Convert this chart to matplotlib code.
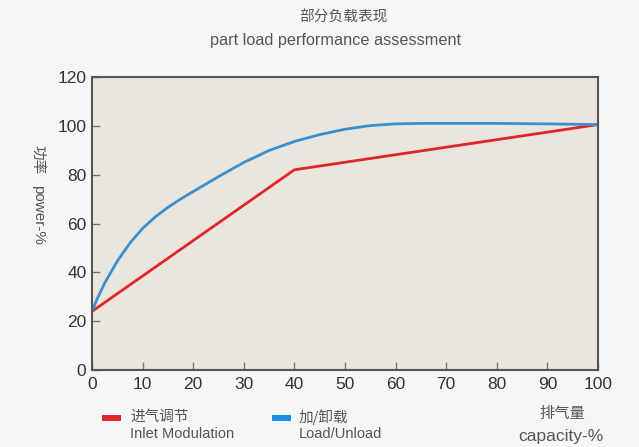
import matplotlib
matplotlib.use("Agg")
import matplotlib.pyplot as plt
from matplotlib.patches import Rectangle

plt.rcParams['font.family'] = ['Liberation Sans', 'Noto Sans CJK SC', 'DejaVu Sans']

# Data
capacity_blue = [0, 1, 2.5, 5, 7.5, 10, 12.5, 15, 17.5, 20, 25, 30, 35, 40, 45, 50, 55, 60, 65, 70, 80, 90, 100]
power_load_unload = [24, 29, 35.6, 44.6, 52, 58, 62.7, 66.6, 70, 73.1, 79.2, 85.0, 89.9, 93.6,
                     96.4, 98.6, 100.1, 100.8, 101, 101, 101, 100.8, 100.5]
capacity_red = [0, 40, 100]
power_inlet_mod = [24, 82, 100.5]

xticks = [0, 10, 20, 30, 40, 50, 60, 70, 80, 90, 100]
yticks = [0, 20, 40, 60, 80, 100, 120]

CJK = ['Noto Sans CJK SC', 'DejaVu Sans']

fig = plt.figure(figsize=(6.39, 4.47), dpi=100)
fig.patch.set_facecolor('#f4f6f7')
ax = fig.add_axes([92/639, 1-370/447, (598-92)/639, (370-77)/447])
ax.set_facecolor('#ebe6dd')

ax.plot(capacity_red, power_inlet_mod, color='#e0262a', lw=2.0)
ax.plot(capacity_blue, power_load_unload, color='#3a8fcf', lw=2.0)

ax.set_xlim(0, 100)
ax.set_ylim(0, 120)
ax.set_xticks(xticks)
ax.set_yticks(yticks)
ax.tick_params(axis='both', direction='in', length=6, width=1, color='#777777',
               labelsize=12.5, labelcolor='#333333')
ax.tick_params(axis='x', pad=5)
ax.tick_params(axis='y', pad=4)
for s in ax.spines.values():
    s.set_color('#555555')
    s.set_linewidth(1.5)

fig.text(343/639, 1-17/447, '部分负载表现', ha='center', va='center', fontsize=10.6,
         color='#555555', family=CJK)
fig.text(336/639, 1-41/447, 'part load performance assessment', ha='center', va='center',
         fontsize=11.7, color='#555555')

fig.text(38/639, 1-160/447, '功率', rotation=270, ha='center', va='center', fontsize=10.5,
         color='#555555', family=CJK)
fig.text(38/639, 1-215/447, 'power-%', rotation=270, ha='center', va='center', fontsize=11,
         color='#555555')

# legend
fig.patches.append(Rectangle((102/639, 1-421/447), 19/639, 6/447, transform=fig.transFigure,
                             facecolor='#e3262b', edgecolor='none'))
fig.patches.append(Rectangle((272/639, 1-421/447), 19/639, 6/447, transform=fig.transFigure,
                             facecolor='#1e8fe0', edgecolor='none'))
fig.text(130/639, 1-417/447, '进气调节', ha='left', va='center', fontsize=10.5, color='#555555',
         family=CJK)
fig.text(130/639, 1-434/447, 'Inlet Modulation', ha='left', va='center', fontsize=10.5, color='#555555')
fig.text(299/639, 1-417/447, '加/卸载', ha='left', va='center', fontsize=10.5, color='#555555',
         family=CJK)
fig.text(299/639, 1-434/447, 'Load/Unload', ha='left', va='center', fontsize=10.5, color='#555555')

fig.text(562/639, 1-413/447, '排气量', ha='center', va='center', fontsize=11, color='#555555',
         family=CJK)
fig.text(561/639, 1-436/447, 'capacity-%', ha='center', va='center', fontsize=12.5, color='#555555')

fig.savefig('out.png', dpi=100, facecolor=fig.get_facecolor())
